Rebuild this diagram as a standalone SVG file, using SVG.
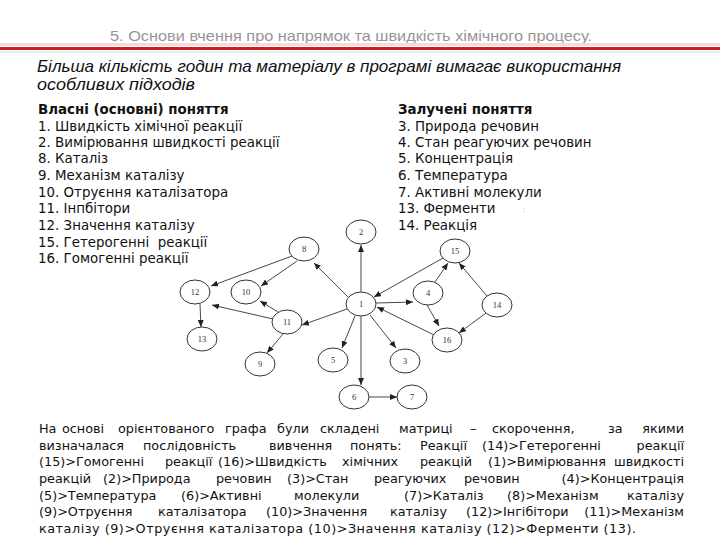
<svg xmlns="http://www.w3.org/2000/svg" width="720" height="540" viewBox="0 0 720 540">
<defs>
<marker id="ah" markerUnits="userSpaceOnUse" markerWidth="7" markerHeight="6" refX="7" refY="3" orient="auto">
<path d="M0,0 L7,3 L0,6 z" fill="#222"/>
</marker>
<style>
.title{font-family:"Liberation Sans",Arial,sans-serif;font-size:15px;fill:#969696}
.sub{font-family:"Liberation Sans",Arial,sans-serif;font-style:italic;font-size:16.5px;fill:#111}
.lst{font-family:"DejaVu Sans",Verdana,sans-serif;font-size:13.4px;fill:#111}
.hd{font-weight:bold}
.par{font-family:"DejaVu Sans",Verdana,sans-serif;font-size:12.8px;fill:#111}
.node ellipse{fill:#fff;stroke:#333;stroke-width:1}
.node text{font-family:"Liberation Serif","Times New Roman",serif;font-size:8.5px;fill:#333;text-anchor:middle}
.edges line{stroke:#333;stroke-width:0.9;marker-end:url(#ah)}
</style>
</defs>
<rect width="720" height="540" fill="#fff"/>

<text class="title" x="110" y="41" textLength="482" lengthAdjust="spacingAndGlyphs">5. Основи вчення про напрямок та швидкість хімічного процесу.</text>
<rect x="0" y="43" width="720" height="3" fill="#f6dada"/>
<rect x="0" y="47" width="720" height="3" fill="#cc1f1f"/>
<rect x="0" y="51" width="720" height="2" fill="#e4eeee"/>

<text class="sub" x="37" y="72" textLength="584" lengthAdjust="spacingAndGlyphs">Більша кількість годин та матеріалу в програмі вимагає використання</text>
<text class="sub" x="37" y="90" textLength="158" lengthAdjust="spacingAndGlyphs">особливих підходів</text>

<g id="list-own">
<text class="lst hd" x="38" y="114">Власні (основні) поняття</text>
<text class="lst" x="38" y="131">1. Швидкість хімічної реакції</text>
<text class="lst" x="38" y="147">2. Вимірювання швидкості реакції</text>
<text class="lst" x="38" y="163">8. Каталіз</text>
<text class="lst" x="38" y="180">9. Механізм каталізу</text>
<text class="lst" x="38" y="197">10. Отруєння каталізатора</text>
<text class="lst" x="38" y="213">11. Інпбітори</text>
<text class="lst" x="38" y="230">12. Значення каталізу</text>
<text class="lst" x="38" y="247" xml:space="preserve">15. Гетерогенні  реакції</text>
<text class="lst" x="38" y="263">16. Гомогенні реакції</text>
</g>

<g id="list-involved">
<text class="lst hd" x="398" y="114">Залучені поняття</text>
<text class="lst" x="398" y="131">3. Природа речовин</text>
<text class="lst" x="398" y="147">4. Стан реагуючих речовин</text>
<text class="lst" x="398" y="163">5. Концентрація</text>
<text class="lst" x="398" y="180">6. Температура</text>
<text class="lst" x="398" y="197">7. Активні молекули</text>
<text class="lst" x="398" y="213">13. Ферменти</text>
<text class="lst" x="523" y="212" style="font-size:7px;fill:#777">:</text>
<text class="lst" x="398" y="230">14. Реакція</text>
</g>

<g class="edges" id="connectors">
<line x1="361" y1="292" x2="361" y2="245"/>
<line x1="348" y1="297" x2="314" y2="263"/>
<line x1="292" y1="256" x2="211" y2="286"/>
<line x1="297" y1="261" x2="261" y2="286"/>
<line x1="347" y1="309" x2="302" y2="325"/>
<line x1="278" y1="312" x2="260" y2="301"/>
<line x1="273" y1="319" x2="212" y2="305"/>
<line x1="200" y1="304" x2="201" y2="327"/>
<line x1="283" y1="334" x2="267" y2="353"/>
<line x1="355" y1="316" x2="342" y2="348"/>
<line x1="370" y1="315" x2="396" y2="348"/>
<line x1="361" y1="316" x2="361" y2="385"/>
<line x1="369" y1="397" x2="397" y2="397"/>
<line x1="443" y1="258" x2="374" y2="297"/>
<line x1="376" y1="303" x2="413" y2="302"/>
<line x1="435" y1="282" x2="448" y2="263"/>
<line x1="427" y1="305" x2="439" y2="326"/>
<line x1="487" y1="296" x2="459" y2="263"/>
<line x1="486" y1="313" x2="459" y2="333"/>
<line x1="434" y1="335" x2="377" y2="307"/>
</g>

<g id="n1" class="node"><ellipse cx="361" cy="304" rx="15" ry="12"/><text x="361" y="307">1</text></g>
<g id="n2" class="node"><ellipse cx="361" cy="232" rx="15" ry="12"/><text x="361" y="235">2</text></g>
<g id="n3" class="node"><ellipse cx="405" cy="361" rx="15" ry="12"/><text x="405" y="364">3</text></g>
<g id="n4" class="node"><ellipse cx="428" cy="293" rx="15" ry="12"/><text x="428" y="296">4</text></g>
<g id="n5" class="node"><ellipse cx="333" cy="360" rx="15" ry="12"/><text x="333" y="363">5</text></g>
<g id="n6" class="node"><ellipse cx="354" cy="397" rx="15" ry="12"/><text x="354" y="400">6</text></g>
<g id="n7" class="node"><ellipse cx="412" cy="397" rx="15" ry="12"/><text x="412" y="400">7</text></g>
<g id="n8" class="node"><ellipse cx="304" cy="249" rx="15" ry="12"/><text x="304" y="252">8</text></g>
<g id="n9" class="node"><ellipse cx="260" cy="364" rx="15" ry="12"/><text x="260" y="367">9</text></g>
<g id="n10" class="node"><ellipse cx="246" cy="292" rx="15" ry="12"/><text x="246" y="295">10</text></g>
<g id="n11" class="node"><ellipse cx="287" cy="322" rx="15" ry="12"/><text x="287" y="325">11</text></g>
<g id="n12" class="node"><ellipse cx="195" cy="292" rx="15" ry="12"/><text x="195" y="295">12</text></g>
<g id="n13" class="node"><ellipse cx="202" cy="339" rx="15" ry="12"/><text x="202" y="342">13</text></g>
<g id="n14" class="node"><ellipse cx="497" cy="305" rx="15" ry="12"/><text x="497" y="308">14</text></g>
<g id="n15" class="node"><ellipse cx="455" cy="251" rx="15" ry="12"/><text x="455" y="254">15</text></g>
<g id="n16" class="node"><ellipse cx="447" cy="340" rx="15" ry="12"/><text x="447" y="343">16</text></g>

<g id="paragraph" class="par">
<text y="433"><tspan x="39">На</tspan><tspan x="62">основі</tspan><tspan x="118">орієнтованого</tspan><tspan x="225">графа</tspan><tspan x="277">були</tspan><tspan x="320">складені</tspan><tspan x="399">матриці</tspan><tspan x="470">–</tspan><tspan x="492">скорочення,</tspan><tspan x="608">за</tspan></text>
<text y="433" x="684" text-anchor="end">якими</text>
<text y="450"><tspan x="39">визначалася</tspan><tspan x="143">послідовність</tspan><tspan x="269">вивчення</tspan><tspan x="350">понять:</tspan><tspan x="420">Реакції</tspan><tspan x="482">(14)&gt;Гетерогенні</tspan></text>
<text y="450" x="684" text-anchor="end">реакції</text>
<text y="466"><tspan x="39">(15)&gt;Гомогенні</tspan><tspan x="165">реакції</tspan><tspan x="218">(16)&gt;Швидкість</tspan><tspan x="342">хімічних</tspan><tspan x="420">реакцій</tspan><tspan x="488">(1)&gt;Вимірювання</tspan></text>
<text y="466" x="684" text-anchor="end">швидкості</text>
<text y="483"><tspan x="39">реакцій</tspan><tspan x="103">(2)&gt;Природа</tspan><tspan x="216">речовин</tspan><tspan x="287">(3)&gt;Стан</tspan><tspan x="374">реагуючих</tspan><tspan x="464">речовин</tspan></text>
<text y="483" x="684" text-anchor="end">(4)&gt;Концентрація</text>
<text y="500"><tspan x="39">(5)&gt;Температура</tspan><tspan x="181">(6)&gt;Активні</tspan><tspan x="294">молекули</tspan><tspan x="404">(7)&gt;Каталіз</tspan><tspan x="507">(8)&gt;Механізм</tspan></text>
<text y="500" x="684" text-anchor="end">каталізу</text>
<text y="516"><tspan x="39">(9)&gt;Отруєння</tspan><tspan x="158">каталізатора</tspan><tspan x="266">(10)&gt;Значення</tspan><tspan x="390">каталізу</tspan><tspan x="466">(12)&gt;Інгібітори</tspan></text>
<text y="516" x="684" text-anchor="end">(11)&gt;Механізм</text>
<text y="533" x="39" textLength="597" lengthAdjust="spacing">каталізу (9)&gt;Отруєння каталізатора (10)&gt;Значення каталізу (12)&gt;Ферменти (13).</text>
</g>
</svg>
